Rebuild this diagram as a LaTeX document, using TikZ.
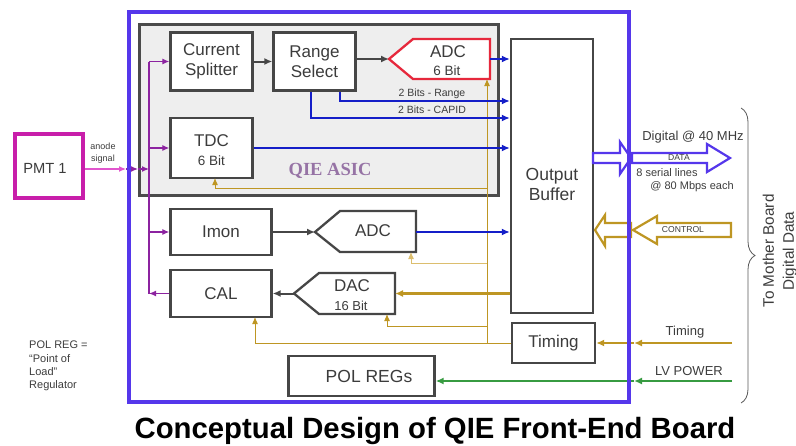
\documentclass[tikz,border=0pt]{standalone}
\usepackage{fontspec}
\setmainfont{Liberation Sans}
\newfontfamily\asicfont{Liberation Serif}
\usetikzlibrary{arrows.meta,decorations.pathreplacing}
\definecolor{boardblue}{RGB}{85,55,235}
\definecolor{datablue}{RGB}{20,30,200}
\definecolor{gold}{RGB}{190,150,35}
\definecolor{goldlight}{RGB}{220,190,110}
\definecolor{boxgray}{RGB}{70,70,70}
\definecolor{pmtmag}{RGB}{200,30,170}
\definecolor{sigpurple}{RGB}{140,35,160}
\definecolor{anodepink}{RGB}{225,85,205}
\definecolor{lvgreen}{RGB}{55,155,65}
\definecolor{adcred}{RGB}{230,40,60}
\definecolor{asicfill}{RGB}{238,238,238}
\definecolor{asicborder}{RGB}{75,75,75}
\definecolor{asictext}{RGB}{150,115,165}
\definecolor{txtgray}{RGB}{60,60,60}
\begin{document}
\begin{tikzpicture}[x=1pt,y=-1pt,
  blk/.style={draw=boxgray,line width=2.3pt,fill=white,text=txtgray,font=\fontsize{17}{20}\selectfont,align=center,inner sep=0pt},
  shp/.style={draw=boxgray,line width=2.3pt,fill=white},
  lbl/.style={text=txtgray,inner sep=0pt,align=center},
  grayarr/.style={draw=boxgray,line width=2pt,-{Latex[length=8pt,width=7pt]}},
  dataline/.style={draw=datablue,line width=2.4pt,-{Latex[length=8pt,width=7pt]}},
  goldthin/.style={draw=gold,line width=1pt,-{Latex[length=7pt,width=6pt]}},
  goldlt/.style={draw=goldlight,line width=1pt,-{Latex[length=7pt,width=6pt]}},
  goldthick/.style={draw=gold,line width=2.4pt,-{Latex[length=8pt,width=7pt]}},
  sig/.style={draw=sigpurple,line width=1.2pt,-{Latex[length=7pt,width=6pt]}},
  lvg/.style={draw=lvgreen,line width=2pt,-{Latex[length=8pt,width=7pt]}},
  hollow/.style={line width=2.2pt,fill=white,line join=miter},
]
\useasboundingbox (0,0) rectangle (796,445);

% QIE ASIC box
\node[draw=asicborder,line width=3pt,fill=asicfill,minimum width=359,minimum height=171,inner sep=0pt] (asic) at (319,110) {};
\node[lbl,text=asictext,font=\asicfont\bfseries\fontsize{18.5}{20}\selectfont] (asictxt) at (330,171) {QIE ASIC};

% coordinates
\coordinate (adc1tip) at (389,59);
\coordinate (adc1out) at (490,59);
\coordinate (adc1bot) at (487,79);
\coordinate (adc2tip) at (315,232);
\coordinate (adc2out) at (416,232);
\coordinate (adc2in) at (411,252);
\coordinate (dactip) at (294,293.5);
\coordinate (dacR) at (395,293.5);
\coordinate (dacin) at (387,314);
\coordinate (rngknee) at (340,101);
\coordinate (capknee) at (311,118);
\coordinate (tdcin) at (215,178);
\coordinate (calin) at (255,317);
\coordinate (gbot) at (487,343);
\coordinate (gb1) at (487,188);
\coordinate (gb2) at (487,263);
\coordinate (gb3) at (487,326);
\coordinate (trunk) at (149,61.5);
\coordinate (pin) at (149,169);
\coordinate (a1) at (126,169);
\coordinate (a2) at (138,169);
\coordinate (tin) at (732,343);
\coordinate (tbd) at (634,343);
\coordinate (lvin) at (732,381);
\coordinate (lvbd) at (634,381);

% boxes
\node[blk,minimum width=82,minimum height=58] (cs) at (211.5,61.5) {Current\\Splitter};
\node[blk,minimum width=82,minimum height=58] (rs) at (314.5,61.5) {Range\\Select};
\node[blk,minimum width=82,minimum height=60] (tdc) at (211.5,148) {};
\node[lbl,font=\fontsize{17}{20}\selectfont] (tdct) at (211.5,141) {TDC};
\node[lbl,font=\fontsize{13.5}{15}\selectfont] (tdcb) at (211.5,161) {6 Bit};
\node[blk,minimum width=82,minimum height=274] (ob) at (552,176) {};
\node[lbl,font=\fontsize{17.5}{20}\selectfont] (obt) at (552,184) {Output\\Buffer};
\node[blk,minimum width=101,minimum height=46] (imon) at (221,232) {Imon};
\node[blk,minimum width=101,minimum height=47] (cal) at (221,293.5) {CAL};
\node[blk,minimum width=146,minimum height=40] (pol) at (361.5,376) {};
\node[lbl,font=\fontsize{17.5}{20}\selectfont] (polt) at (369,376) {POL REGs};
\node[blk,minimum width=83,minimum height=40] (timing) at (553.5,343) {Timing};
\node[draw=pmtmag,line width=4pt,fill=white,minimum width=68,minimum height=64,inner sep=0pt] (pmt) at (49,166) {};
\node[lbl,font=\fontsize{14.7}{17}\selectfont] (pmtt) at (45,168) {PMT 1};

% ADC / DAC shapes
\draw[shp,draw=adcred] (adc1tip) -- (413,39) -- (490,39) -- (490,79) -- (413,79) -- cycle;
\node[lbl,font=\fontsize{17}{20}\selectfont] (adc1t) at (448,52) {ADC};
\node[lbl,font=\fontsize{13.5}{15}\selectfont] (adc1b) at (447,71) {6 Bit};
\draw[shp] (adc2tip) -- (340,211) -- (416,211) -- (416,252) -- (340,252) -- cycle;
\node[lbl,font=\fontsize{17}{20}\selectfont] (adc2t) at (373,231) {ADC};
\draw[shp] (dactip) -- (319,273) -- (395,273) -- (395,314) -- (319,314) -- cycle;
\node[lbl,font=\fontsize{17}{20}\selectfont] (dact) at (352,286) {DAC};
\node[lbl,font=\fontsize{13}{15}\selectfont] (dacb) at (351,306) {16 Bit};

% gold control network
\draw[goldthin] (gbot) -- (adc1bot);
\draw[goldthin] (timing.west) -| (calin);
\draw[goldthin] (gb1) -| (tdcin);
\draw[goldlt] (gb2) -| (adc2in);
\draw[goldthin] (gb3) -| (dacin);
\draw[goldthick] (ob.west |- dacR) -- (dacR);

% gray block arrows
\draw[grayarr] (cs.east) -- (rs.west);
\draw[grayarr] (rs.east |- adc1tip) -- (adc1tip);
\draw[grayarr] (imon.east) -- (adc2tip);
\draw[grayarr] (dactip) -- (cal.east);

% data lines
\draw[dataline] (adc1out) -- (ob.west |- adc1out);
\draw[dataline] (rs.south -| rngknee) -- (rngknee) -- (ob.west |- rngknee);
\draw[dataline] (rs.south -| capknee) -- (capknee) -- (ob.west |- capknee);
\draw[dataline] (tdc.east) -- (ob.west |- tdc.east);
\draw[dataline] (adc2out) -- (ob.west |- adc2out);
\node[lbl,font=\fontsize{10.5}{12}\selectfont] (lrng) at (432,94) {2 Bits - Range};
\node[lbl,font=\fontsize{10.5}{12}\selectfont] (lcap) at (432,110) {2 Bits - CAPID};

% purple signal distribution
\draw[draw=sigpurple,line width=1.2pt] (trunk) -- (trunk |- cal.west);
\draw[sig] (trunk) -- (cs.west);
\draw[sig] (trunk |- tdc.west) -- (tdc.west);
\draw[sig] (trunk |- imon.west) -- (imon.west);
\draw[sig] (cal.west) -- (trunk |- cal.west);
\draw[draw=anodepink,line width=1.2pt,-{Latex[length=7pt,width=6pt]}] (pmt.east |- pin) -- (a1);
\draw[sig] (a1) -- (a2);
\draw[sig] (a2) -- (pin);
\node[lbl,font=\fontsize{9}{12}\selectfont] (anode) at (103,153) {anode\\signal};

% DATA arrows
\draw[hollow,draw=boardblue] (593,153) -- (620,153) -- (620,142) -- (631,158) -- (620,174) -- (620,163) -- (593,163) -- cycle;
\draw[hollow,draw=boardblue] (632,153) -- (707,153) -- (707,144) -- (730,158) -- (707,172) -- (707,163) -- (632,163) -- cycle;
\node[lbl,font=\fontsize{8.6}{10}\selectfont] (datat) at (679,158) {DATA};
\node[lbl,font=\fontsize{13}{15}\selectfont] (dig) at (693,137) {Digital @ 40 MHz};
\node[lbl,font=\fontsize{11}{13}\selectfont] (ser) at (667,173) {8 serial lines};
\node[lbl,font=\fontsize{11}{13}\selectfont] (mbps) at (692,187) {@ 80 Mbps each};

% CONTROL arrows
\draw[hollow,draw=gold] (633,230) -- (657,216) -- (657,223) -- (731,223) -- (731,237) -- (657,237) -- (657,244) -- cycle;
\draw[hollow,draw=gold] (595,230) -- (605,215) -- (605,223) -- (631,223) -- (631,237) -- (605,237) -- (605,246) -- cycle;
\node[lbl,font=\fontsize{8.6}{10}\selectfont] (ctrl) at (683,230) {CONTROL};

% Timing and LV power inputs
\draw[goldthick] (tin) -- (tbd);
\draw[goldthick] (tbd) -- (timing.east);
\node[lbl,font=\fontsize{13}{15}\selectfont] (tlab) at (685,332) {Timing};
\draw[lvg] (lvin) -- (lvbd);
\draw[lvg] (lvbd) -- (pol.east |- lvbd);
\node[lbl,font=\fontsize{13}{15}\selectfont] (lvlab) at (689,371) {LV POWER};

% board outline
\draw[draw=boardblue,line width=4pt] (129,12) rectangle (629,402);

% brace and side label
\draw[decorate,decoration={brace,amplitude=14pt},draw=gray!70!black,line width=0.8pt] (741,108) -- (741,403);
\node[lbl,rotate=90,font=\fontsize{15.3}{20}\selectfont] (mb) at (780,251) {To Mother Board\\Digital Data};

% note and title
\node[lbl,align=left,anchor=west,font=\fontsize{11}{13.3}\selectfont] (note) at (29,366) {POL REG =\\“Point of\\Load”\\Regulator};
\node[inner sep=0pt,font=\bfseries\fontsize{29.3}{32}\selectfont] (title) at (435,431) {Conceptual Design of QIE Front-End Board};
\end{tikzpicture}
\end{document}
